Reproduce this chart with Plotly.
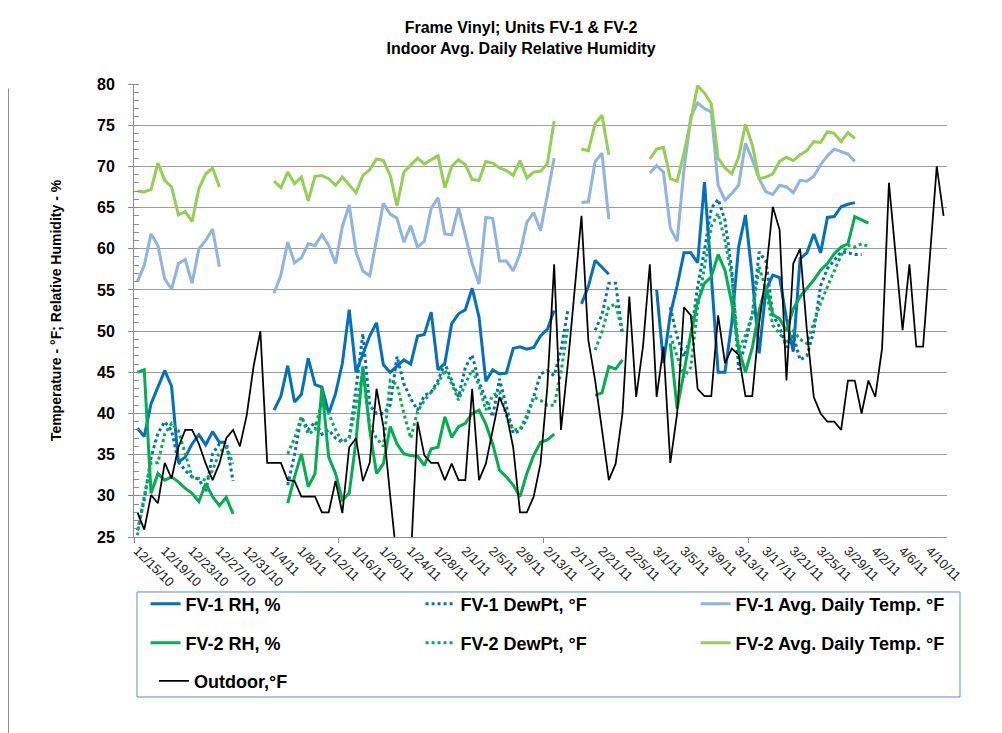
import plotly.graph_objects as go
import pandas as pd

N = None
start_date = "2010-12-15"
n_days = 119
dates = pd.date_range(start_date, periods=n_days, freq="D")

fv1_temp = ([56.0, 58.0, 61.8, 60.4, 56.3, 55.1, 58.2, 58.7, 55.8, 60.0, 61.0, 62.4, 57.8] + [N] * 7 +
            [54.6, 56.8, 60.8, 58.3, 58.9, 60.6, 60.4, 61.7, 60.4, 58.2,
             62.7, 65.3, 59.6, 57.3, 56.7, 61.0, 65.5, 64.2, 63.7, 60.8,
             62.8, 60.2, 60.9, 64.9, 66.2, 61.8, 61.7, 65.0, 61.7, 58.2,
             55.7, 63.8, 63.7, 58.5, 58.5, 57.3, 59.4, 63.2, 64.4, 62.2,
             66.5, 71.0] + [N] * 3 +
            [65.6, 65.7, 70.6, 71.6, 63.6] + [N] * 5 +
            [69.2, 70.1, 69.3, 62.5, 60.9, 69.6, 76.0, 77.7, 77.0, 76.6,
             67.7, 65.9, 66.7, 67.7, 72.8, 70.8, 68.5, 66.9, 66.6, 67.7,
             67.5, 66.8, 68.3, 68.2, 68.8, 70.2, 71.3, 72.1, 71.8, 71.5,
             70.6] + [N] * 13)

fv2_temp = ([67.0, 66.9, 67.2, 70.4, 68.3, 67.5, 64.1, 64.5, 63.3, 67.3, 69.1, 69.8, 67.5] + [N] * 7 +
            [68.2, 67.4, 69.3, 67.9, 68.7, 65.8, 68.8, 68.9, 68.5, 67.7,
             68.7, 67.7, 66.8, 68.9, 69.6, 70.9, 70.7, 68.9, 65.2, 69.3,
             70.2, 71.0, 70.3, 70.8, 71.3, 67.4, 70.0, 70.8, 70.2, 68.4,
             68.3, 70.6, 70.4, 69.8, 69.5, 68.9, 70.7, 68.6, 69.3, 69.4,
             70.3, 75.5] + [N] * 3 +
            [72.1, 71.9, 75.2, 76.2, 71.4] + [N] * 5 +
            [70.9, 72.1, 72.3, 68.5, 68.2, 71.6, 75.6, 79.8, 78.9, 77.6,
             71.0, 69.8, 69.1, 71.1, 75.1, 72.6, 68.5, 68.7, 69.1, 70.6,
             71.1, 70.7, 71.4, 71.9, 73.0, 72.9, 74.2, 74.0, 73.0, 74.1,
             73.4] + [N] * 13)

fv1_rh = ([38.2, 37.2, 41.2, 43.2, 45.2, 43.3, 34.1, 34.7, 36.3, 37.4, 36.2, 37.8, 36.5, 36.5] + [N] * 6 +
          [40.4, 42.1, 45.8, 41.4, 42.3, 46.7, 43.5, 43.2, 40.0, 42.4,
           46.1, 52.6, 45.0, 47.1, 49.4, 51.0, 45.9, 45.0, 45.7, 46.5,
           46.0, 49.4, 49.6, 52.3, 45.3, 46.1, 50.9, 52.1, 52.6, 55.2,
           51.7, 43.9, 45.3, 44.8, 44.9, 47.9, 48.1, 47.8, 48.0, 49.4,
           50.2, 52.5] + [N] * 3 +
          [53.3, 55.4, 58.6, 57.7, 56.9] + [N] * 6 +
          [55.0, 46.1, 52.0, 55.5, 59.5, 59.5, 58.3, 68.1, 56.8, 45.0,
           45.0, 51.0, 60.2, 64.1, 56.6, 47.3, 55.0, 56.8, 56.5, 51.5,
           47.5, 58.8, 59.5, 61.8, 59.5, 63.8, 63.9, 65.1, 65.4, 65.6] + [N] * 13)

fv2_rh = ([45.0, 45.3, 30.3, 32.7, 31.9, 32.3, 31.7, 30.9, 30.3, 29.3, 31.5, 29.9, 28.8, 29.8, 27.8] + [N] * 7 +
          [29.1, 32.3, 35.1, 31.1, 32.7, 43.2, 34.7, 32.7, 29.5, 30.3,
           36.7, 45.7, 38.0, 32.7, 33.9, 38.4, 36.3, 35.1, 34.9, 34.8,
           33.7, 35.7, 35.9, 39.6, 37.1, 38.4, 38.8, 40.0, 40.4, 38.7,
           36.3, 33.1, 32.3, 31.3, 29.9, 32.7, 34.9, 36.5, 36.8, 37.5] + [N] * 5 +
          [42.2, 42.5, 45.7, 45.4, 46.5] + [N] * 6 +
          [48.5, 40.6, 45.0, 49.7, 53.5, 55.8, 56.6, 59.3, 57.4, 53.4,
           47.9, 45.0, 48.0, 52.5, 55.5, 52.0, 51.5, 50.0, 52.7, 54.2,
           55.2, 56.2, 57.4, 58.2, 59.4, 60.2, 60.6, 63.9, 63.5, 63.1] + [N] * 11)

fv1_dew = ([25.8, 29.5, 34.7, 37.6, 39.0, 37.9, 34.1, 33.1, 32.3, 32.0, 30.5, 35.1, 36.3, 36.5, 31.8] + [N] * 7 +
           [31.3, 35.0, 39.6, 38.0, 39.0, 37.5, 38.0, 37.0, 36.5, 37.0,
            43.0, 49.7, 41.0, 40.0, 40.0, 41.0, 46.9, 43.6, 41.8, 40.4,
            42.2, 42.6, 44.0, 46.1, 44.0, 42.0, 45.6, 47.1, 43.8, 41.6,
            39.6, 44.2, 40.8, 37.6, 37.9, 39.4, 42.0, 44.8, 45.2, 44.6,
            47.7, 52.5] + [N] * 3 +
           [50.1, 52.0, 55.8, 55.8, 49.5] + [N] * 6 +
           [52.9, 49.3, 46.9, 49.3, 55.4, 59.8, 64.9, 66.0, 63.5, 57.4,
            45.3, 48.5, 52.0, 59.6, 58.5, 52.0, 50.5, 48.0, 49.5, 46.5,
            47.0, 50.0, 55.5, 57.6, 58.6, 59.6, 59.5, 59.3, 59.3] + [N] * 12)

fv2_dew = ([25.2, 30.0, 34.0, 34.0, 37.5, 38.8, 37.9, 35.0, 32.3, 32.1, 31.9, 33.1, 35.3, 35.9, 33.9] + [N] * 7 +
           [35.1, 37.0, 39.6, 37.5, 38.0, 41.5, 40.0, 38.0, 36.5, 37.0,
            41.0, 45.0, 38.5, 37.0, 36.0, 44.0, 43.5, 40.0, 37.0, 40.2,
            41.6, 42.6, 43.6, 45.3, 43.6, 41.6, 43.6, 45.3, 43.4, 40.4,
            42.2, 42.6, 39.8, 38.0, 38.1, 39.8, 42.0, 41.6, 41.0, 41.0,
            45.0, 50.5] + [N] * 3 +
           [47.7, 49.9, 52.9, 53.3, 49.9] + [N] * 6 +
           [49.5, 46.9, 44.4, 45.6, 52.9, 57.8, 62.7, 64.3, 61.0, 56.6,
            47.7, 49.5, 52.0, 57.8, 55.0, 50.7, 49.7, 48.5, 50.0, 49.0,
            48.5, 51.0, 53.4, 55.4, 57.4, 59.2, 60.4, 60.2, 60.6, 60.3] + [N] * 11)

outdoor = ([28.0, 25.9, 30.1, 29.1, 34.0, 32.1, 35.9, 38.0, 38.0, 36.3, 33.9, 31.9, 33.9, 37.0, 38.0,
            36.0, 39.8, 45.7, 50.0, 34.0,
            34.0, 34.0, 31.9, 31.8, 29.9, 29.9, 29.9, 28.0, 28.0, 31.8, 27.9, 35.9, 37.0, 31.8, 34.0, 43.0, 38.4,
            30.0, 22.0, 20.0, 22.0,
            39.0, 34.9, 34.0, 34.0, 31.9, 33.9, 31.9, 31.9, 43.0, 31.9, 33.9, 38.0, 42.0, 40.0, 35.9, 28.0,
            28.0, 29.9, 33.9, 43.2, 58.1, 38.0, 46.0, 55.0, 64.0, 48.9,
            44.0, 38.0, 31.9, 33.9, 40.0, 54.2, 42.0, 48.1, 58.1, 42.0,
            48.1, 34.0, 40.0, 52.9, 51.9, 43.0, 42.1, 42.1, 51.9, 46.1,
            47.9, 47.1, 42.1, 42.1, 50.9, 57.0, 65.1, 62.3, 44.0, 58.2,
            60.0, 50.0, 42.0, 40.0, 39.0, 39.0, 38.0, 44.0, 44.0, 40.0,
            44.0, 42.0, 47.9, 68.0, 59.0, 50.1, 58.1, 48.1, 48.1, 59.0,
            70.0, 64.0])

# (name, values, colour, width, dash, legend row)
series = [
    ("FV-1 RH, %", fv1_rh, "#0070C0", 3, "solid", "legend"),
    ("FV-1 DewPt, °F", fv1_dew, "#0070C0", 3, "dot", "legend"),
    ("FV-1 Avg. Daily Temp. °F", fv1_temp, "#8DB4E2", 3, "solid", "legend"),
    ("FV-2 RH, %", fv2_rh, "#00B050", 3, "solid", "legend2"),
    ("FV-2 DewPt, °F", fv2_dew, "#00B050", 3, "dot", "legend2"),
    ("FV-2 Avg. Daily Temp. °F", fv2_temp, "#92D050", 3, "solid", "legend2"),
    ("Outdoor,°F", outdoor, "#000000", 1.75, "solid", "legend3"),
]

fig = go.Figure()
for name, vals, color, width, dash, leg in series:
    fig.add_trace(go.Scatter(x=dates, y=vals, name=name, mode="lines", legend=leg,
                             line=dict(color=color, width=width, dash=dash),
                             connectgaps=False))

font_family = "Liberation Sans, Arial, sans-serif"
leg_font = dict(size=18, family=font_family, weight="bold")


def leg_row(yc):
    # anchored right, outside the plot on x, so the three entries stay on one row
    return dict(orientation="h", x=1.029, xanchor="right", y=yc, yanchor="middle",
                entrywidth=230, entrywidthmode="pixels", borderwidth=0,
                bgcolor="rgba(0,0,0,0)", font=leg_font, itemwidth=30)


fig.update_layout(
    width=1002, height=733,
    margin=dict(l=126, r=63, t=76, b=204, autoexpand=False),
    paper_bgcolor="white", plot_bgcolor="white",
    font=dict(family=font_family, color="#000000"),
    title=dict(text="Frame Vinyl; Units FV-1 & FV-2<br>Indoor Avg. Daily Relative Humidity",
               x=0.512, xanchor="center", y=0.966, yanchor="top",
               font=dict(size=16, family=font_family, weight="bold")),
    showlegend=True,
    legend=leg_row(-0.148),
    legend2=leg_row(-0.234),
    legend3=dict(orientation="h", x=0.0246, xanchor="left", y=-0.318, yanchor="middle",
                 borderwidth=0, bgcolor="rgba(0,0,0,0)", font=leg_font, itemwidth=30),
    xaxis=dict(type="date", range=["2010-12-14 12:00", "2011-04-12 12:00"],
               tick0="2010-12-15", dtick=4 * 86400000, tickformat="%-m/%-d/%y",
               tickangle=45, ticks="", tickfont=dict(size=13, color="#222"),
               showgrid=False, showline=True, linecolor="#8c8c8c", linewidth=1,
               minor=dict(ticks="outside", ticklen=5, tickcolor="#8c8c8c",
                          tick0="2010-12-14 12:00", dtick=30 * 86400000, showgrid=False),
               zeroline=False),
    yaxis=dict(range=[25, 80], dtick=5, tick0=25, showgrid=True, gridcolor="#9c9c9c", gridwidth=1,
               showline=True, linecolor="#8c8c8c", linewidth=1,
               ticks="outside", ticklen=5, tickcolor="#8c8c8c", ticklabelstandoff=10,
               tickfont=dict(size=16, family=font_family, weight="bold"),
               minor=dict(ticks="inside", ticklen=5, tickcolor="#8c8c8c", dtick=1, showgrid=False),
               title=dict(text="Temperature - °F; Relative Humidity - %",
                          font=dict(size=14, family=font_family, weight="bold"), standoff=32),
               zeroline=False),
)

# legend frame and chart-area left edge
fig.add_shape(type="rect", xref="paper", yref="paper", x0=0.0037, x1=1.016, y0=-0.1214, y1=-0.3532,
              line=dict(color="#5B8FD0", width=1), fillcolor="rgba(0,0,0,0)", layer="below")
fig.add_shape(type="line", xref="paper", yref="paper", x0=-0.1544, x1=-0.1544, y0=0.99, y1=-0.47,
              line=dict(color="#8c8c8c", width=1))

fig.write_html("out.html")
